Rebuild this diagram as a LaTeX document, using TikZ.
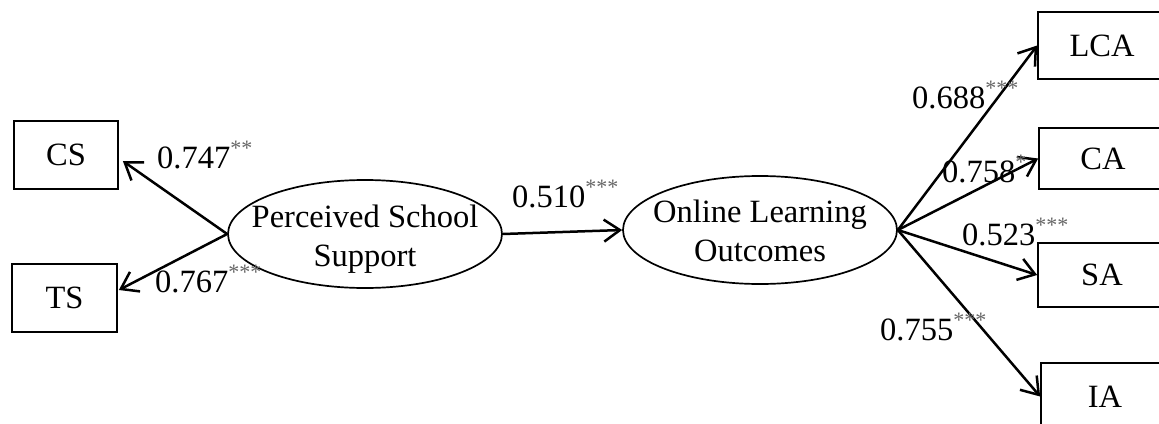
\documentclass[tikz,border=0pt]{standalone}
\usepackage{fontspec}
\setmainfont{Liberation Serif}
\usetikzlibrary{shapes.geometric,arrows.meta}
\newcommand\sig[1]{\raisebox{13pt}{\fontsize{22}{22}\selectfont\color{gray!80!black}#1}}
\begin{document}
\begin{tikzpicture}[x=1pt,y=-1pt,
  every node/.style={font=\fontsize{32.5}{39}\selectfont},
  obsbox/.style={draw,line width=1.7pt,minimum width=128pt,inner sep=0pt},
  latent/.style={draw,ellipse,line width=1.7pt,minimum width=274pt,minimum height=108pt,inner sep=0pt},
  lattext/.style={align=center,inner sep=0pt},
  arr/.style={line width=2.5pt,-{Straight Barb[length=16pt,width=22pt,line width=2.5pt]}},
  coef/.style={anchor=base west,inner sep=0pt}]
\clip (0,0) rectangle (1159,423);
\fill[white] (0,0) rectangle (1159,423);
% observed boxes
\node[obsbox,minimum width=104pt,minimum height=68pt] (cs) at (66,155) {CS};
\node[obsbox,minimum width=105pt,minimum height=68pt] (ts) at (64.5,298) {TS};
\node[obsbox,minimum height=67pt] (lca) at (1102,45.5) {LCA};
\node[obsbox,minimum height=61pt] (ca) at (1103,158.5) {CA};
\node[obsbox,minimum height=64pt] (sa) at (1102,275) {SA};
\node[obsbox,minimum height=67pt] (ia) at (1105,396.5) {IA};
% latent ellipses
\node[latent] (pss) at (365,234) {};
\node[lattext] (psst) at (365,239) {Perceived School\\Support};
\node[latent] (olo) at (760,230) {};
\node[lattext] (olot) at (760,230.5) {Online Learning\\Outcomes};
% paths
\draw[arr] (pss.west) -- ([shift={(4,6)}]cs.east);
\draw[arr] (pss.west) -- ([shift={(1,-8)}]ts.east);
\draw[arr] (pss.east) -- (olo.west);
\draw[arr] (olo.east) -- (lca.west);
\draw[arr] (olo.east) -- (ca.west);
\draw[arr] (olo.east) -- (sa.west);
\draw[arr] (olo.east) -- (ia.west);
% coefficients
\node[coef] (c747) at (157,168) {0.747\sig{**}};
\node[coef] (c767) at (155,292) {0.767\sig{***}};
\node[coef] (c510) at (512,207) {0.510\sig{***}};
\node[coef] (c688) at (912,108) {0.688\sig{***}};
\node[coef] (c758) at (942,182) {0.758\sig{*}};
\node[coef] (c523) at (962,245) {0.523\sig{***}};
\node[coef] (c755) at (880,340) {0.755\sig{***}};
\end{tikzpicture}
\end{document}
